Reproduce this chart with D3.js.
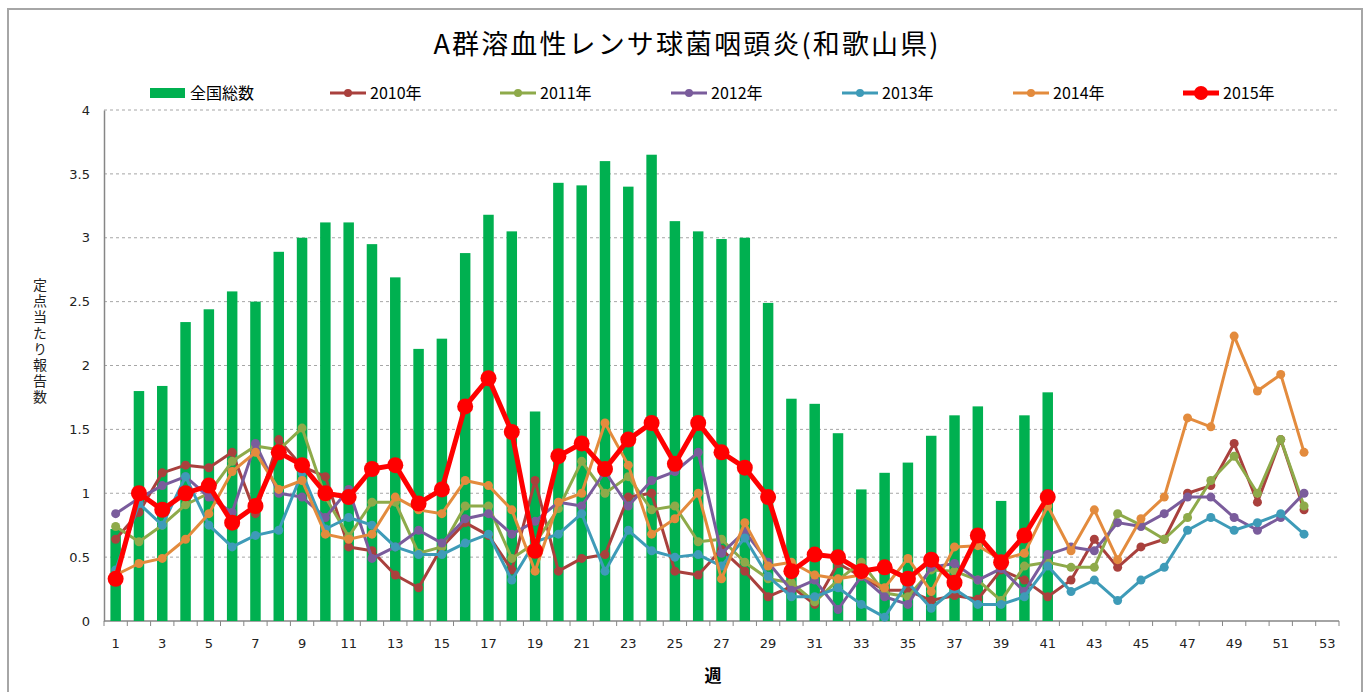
<!DOCTYPE html>
<html>
<head>
<meta charset="utf-8">
<script src="https://cdn.jsdelivr.net/npm/d3@7"></script>
<style>
  body { margin: 0; background: #fff; }
  svg { display: block; }
</style>
</head>
<body>
<div id="chart"></div>
<script>
// weeks on the x axis
var weeks = d3.range(1, 54);
var yTicks = [0, 0.5, 1, 1.5, 2, 2.5, 3, 3.5, 4];

// 全国総数 (bars), weeks 1-41
var national = [0.72,1.80,1.84,2.34,2.44,2.58,2.50,2.89,3.00,3.12,3.12,2.95,2.69,2.13,2.21,2.88,3.18,3.05,1.64,3.43,3.41,3.60,3.40,3.65,3.13,3.05,2.99,3.00,2.49,1.74,1.70,1.47,1.03,1.16,1.24,1.45,1.61,1.68,0.94,1.61,1.79];

var y2010 = [0.64,0.85,1.16,1.22,1.20,1.32,0.84,1.42,1.21,1.13,0.58,0.55,
  0.36,0.26,0.58,0.77,0.67,0.40,1.10,0.39,0.49,0.52,0.97,1.00,0.39,
  0.36,0.56,0.39,0.19,0.27,0.13,0.45,0.35,0.24,0.24,0.16,0.20,
  0.17,0.40,0.32,0.19,0.32,0.64,0.42,0.58,0.64,1.00,1.06,1.39,0.93,1.42,0.87];
var y2011 = [0.74,0.62,0.75,0.91,1.00,1.25,1.37,1.34,1.51,0.97,0.66,0.93,
  0.93,0.53,0.58,0.90,0.90,0.49,0.61,0.88,1.25,1.00,1.13,0.87,0.90,
  0.62,0.64,0.46,0.33,0.30,0.15,0.32,0.46,0.22,0.19,0.40,0.39,
  0.32,0.16,0.43,0.46,0.42,0.42,0.84,0.75,0.64,0.81,1.10,1.29,1.00,1.42,0.90];
var y2012 = [0.84,0.96,1.06,1.13,0.97,0.85,1.39,1.00,0.97,0.81,1.03,0.49,
  0.58,0.71,0.61,0.80,0.84,0.68,0.78,0.93,0.90,1.17,0.90,1.10,1.17,
  1.32,0.53,0.70,0.46,0.24,0.32,0.09,0.35,0.19,0.13,0.42,0.45,
  0.32,0.41,0.23,0.52,0.58,0.55,0.77,0.74,0.84,0.97,0.97,0.81,0.71,0.81,1.00];
var y2013 = [0.40,0.92,0.75,1.13,0.75,0.58,0.67,0.71,1.16,0.72,0.81,0.75,
  0.58,0.52,0.52,0.61,0.68,0.32,0.62,0.68,0.84,0.39,0.71,0.55,0.50,
  0.52,0.43,0.65,0.35,0.19,0.19,0.26,0.13,0.03,0.30,0.10,0.25,
  0.13,0.13,0.19,0.43,0.23,0.32,0.16,0.32,0.42,0.71,0.81,0.71,0.77,0.84,0.68];
var y2014 = [0.36,0.45,0.49,0.64,0.84,1.17,1.32,1.03,1.10,0.68,0.64,0.68,
  0.97,0.87,0.84,1.10,1.06,0.87,0.39,0.93,1.00,1.55,1.22,0.68,0.80,
  1.00,0.33,0.77,0.43,0.46,0.36,0.33,0.36,0.26,0.49,0.23,0.58,
  0.59,0.48,0.53,0.90,0.55,0.87,0.48,0.80,0.97,1.59,1.52,2.23,1.80,1.93,1.32];
var y2015 = [0.33,1.00,0.87,1.00,1.06,0.77,0.90,1.32,1.22,1.00,0.97,1.19,1.22,0.92,1.03,1.68,1.90,1.48,0.55,1.29,1.39,1.19,1.42,1.55,1.23,1.55,1.32,1.20,0.97,0.39,0.52,0.50,0.39,0.42,0.33,0.48,0.30,0.67,0.46,0.67,0.97];

var seriesNames = ["2010年", "2011年", "2012年", "2013年", "2014年", "2015年"];
var seriesValues = [y2010, y2011, y2012, y2013, y2014, y2015];
var seriesColors = ["#A9403D", "#8EAA4A", "#7A5C9C", "#3E9BB8", "#E38B3D", "#FF0000"];

var width = 1366, height = 692;
var jp = "'Noto Sans CJK JP', 'Noto Sans', sans-serif";
var num = "'DejaVu Sans', Verdana, sans-serif";

var svg = d3.select("#chart").append("svg")
    .attr("width", width)
    .attr("height", height);

// chart frame
svg.append("rect")
    .attr("x", 8).attr("y", 9)
    .attr("width", 1354).attr("height", 700)
    .attr("fill", "#fff")
    .attr("stroke", "#a6a6a6")
    .attr("stroke-width", 2);

var x = d3.scaleBand()
    .domain(weeks)
    .range([104, 1339]);

var y = d3.scaleLinear()
    .domain([0, 4])
    .range([621, 110]);

var cx = function(i) { return x(weeks[i]) + x.bandwidth() / 2; };

// title
svg.append("text")
    .attr("x", 686).attr("y", 54)
    .attr("text-anchor", "middle")
    .style("font-family", jp)
    .style("font-size", "27px")
    .attr("textLength", 505)
    .attr("lengthAdjust", "spacing")
    .attr("fill", "#000")
    .text("A群溶血性レンサ球菌咽頭炎(和歌山県)");

// gridlines
svg.append("g").selectAll("line")
    .data(yTicks.filter(function(d) { return d > 0; }))
    .enter().append("line")
    .attr("x1", 104).attr("x2", 1340)
    .attr("y1", function(d) { return y(d); })
    .attr("y2", function(d) { return y(d); })
    .attr("stroke", "#a6a6a6")
    .attr("stroke-dasharray", "3,3")
    .attr("stroke-width", 1);

// y axis
var yAxis = d3.axisLeft(y)
    .tickValues(yTicks)
    .tickSize(0)
    .tickPadding(14)
    .tickFormat(function(d) { return String(d); });

var gy = svg.append("g")
    .attr("transform", "translate(104,0)")
    .call(yAxis);
gy.select(".domain").attr("stroke", "#868686").attr("stroke-width", 1.5);
gy.selectAll("text")
    .style("font-family", num)
    .style("font-size", "13px")
    .attr("fill", "#222");

// x axis: ticks on category boundaries
var gx = svg.append("g")
    .attr("transform", "translate(0,621)");
gx.append("line")
    .attr("x1", 104).attr("x2", 1339)
    .attr("stroke", "#868686").attr("stroke-width", 1.5);
gx.selectAll("line.tick")
    .data(weeks.concat([54]))
    .enter().append("line")
    .attr("class", "tick")
    .attr("x1", function(d) { return d <= 53 ? x(d) : 1339; })
    .attr("x2", function(d) { return d <= 53 ? x(d) : 1339; })
    .attr("y1", 0).attr("y2", 5)
    .attr("stroke", "#868686");
gx.selectAll("text")
    .data(weeks.filter(function(d) { return d % 2 === 1; }))
    .enter().append("text")
    .attr("x", function(d) { return x(d) + x.bandwidth() / 2; })
    .attr("y", 27)
    .attr("text-anchor", "middle")
    .style("font-family", num)
    .style("font-size", "13px")
    .attr("fill", "#222")
    .text(function(d) { return d; });

// axis titles
svg.append("text")
    .attr("x", 713).attr("y", 682)
    .attr("text-anchor", "middle")
    .style("font-family", jp)
    .style("font-size", "17px")
    .style("font-weight", "bold")
    .text("週");

svg.append("text")
    .attr("x", 40).attr("y", 278)
    .style("font-family", jp)
    .style("font-size", "14px")
    .style("writing-mode", "vertical-rl")
    .style("letter-spacing", "2px")
    .attr("fill", "#222")
    .text("定点当たり報告数");

// bars
var barW = x.bandwidth() * 0.45;
svg.append("g").selectAll("rect")
    .data(national)
    .enter().append("rect")
    .attr("x", function(d, i) { return cx(i) - barW / 2; })
    .attr("y", function(d) { return y(d); })
    .attr("width", barW)
    .attr("height", function(d) { return y(0) - y(d); })
    .attr("fill", "#00B050");

// lines
var line = d3.line()
    .x(function(d, i) { return cx(i); })
    .y(function(d) { return y(d); });

seriesValues.forEach(function(vals, k) {
  var big = k === 5;
  var g = svg.append("g");
  g.append("path")
      .datum(vals)
      .attr("d", line)
      .attr("fill", "none")
      .attr("stroke", seriesColors[k])
      .attr("stroke-width", big ? 5 : 3)
      .attr("stroke-linejoin", "round");
  g.selectAll("circle")
      .data(vals)
      .enter().append("circle")
      .attr("cx", function(d, i) { return cx(i); })
      .attr("cy", function(d) { return y(d); })
      .attr("r", big ? 8 : 4.5)
      .attr("fill", seriesColors[k]);
});

// legend
var legend = svg.append("g").attr("transform", "translate(0,93)");
legend.append("rect")
    .attr("x", 150).attr("y", -5)
    .attr("width", 35).attr("height", 10)
    .attr("fill", "#00B050");
legend.append("text")
    .attr("x", 190).attr("y", 6)
    .style("font-family", jp)
    .style("font-size", "16px")
    .text("全国総数");

var legX = [330, 500, 671, 842, 1013, 1183];
seriesNames.forEach(function(name, k) {
  var big = k === 5;
  var gl = legend.append("g").attr("transform", "translate(" + legX[k] + ",0)");
  gl.append("line")
      .attr("x1", 0).attr("x2", 36)
      .attr("stroke", seriesColors[k])
      .attr("stroke-width", big ? 5 : 3);
  gl.append("circle")
      .attr("cx", 18).attr("cy", 0)
      .attr("r", big ? 7 : 4)
      .attr("fill", seriesColors[k]);
  gl.append("text")
      .attr("x", 40).attr("y", 6)
      .style("font-family", jp)
      .style("font-size", "16px")
      .text(name);
});
</script>
</body>
</html>
